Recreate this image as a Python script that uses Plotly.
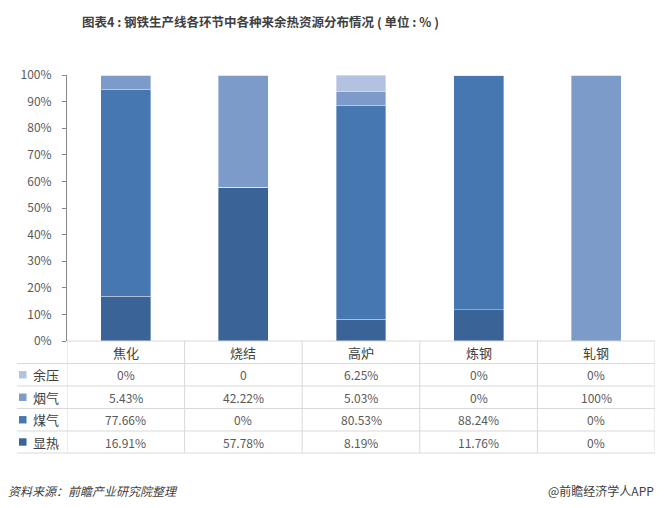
import plotly.graph_objects as go

categories = ["焦化", "烧结", "高炉", "炼钢", "轧钢"]
series_names = ["显热", "煤气", "烟气", "余压"]
xianre = [16.91, 57.78, 8.19, 11.76, 0]
meiqi = [77.66, 0, 80.53, 88.24, 0]
yanqi = [5.43, 42.22, 5.03, 0, 100]
yuya = [0, 0, 6.25, 0, 0]
# table text as printed in the source
yuya_text = ["0%", "0", "6.25%", "0%", "0%"]
yanqi_text = ["5.43%", "42.22%", "5.03%", "0%", "100%"]
meiqi_text = ["77.66%", "0%", "80.53%", "88.24%", "0%"]
xianre_text = ["16.91%", "57.78%", "8.19%", "11.76%", "0%"]
y_ticks = [0, 10, 20, 30, 40, 50, 60, 70, 80, 90, 100]

colors = {"显热": "#3A6398", "煤气": "#4777B1", "烟气": "#7D9BC9", "余压": "#B3C3DF"}

W, H = 665, 508
L, R, T, B = 67, 655, 75, 341
FONT = "Microsoft YaHei, Noto Sans CJK SC, sans-serif"


def xp(px):
    return (px - L) / (R - L)


def yp(py):
    return (B - py) / (B - T)


fig = go.Figure()
for name, vals in zip(series_names, [xianre, meiqi, yanqi, yuya]):
    fig.add_trace(go.Bar(x=list(range(len(categories))), y=vals, name=name,
                         marker=dict(color=colors[name], line=dict(color="rgba(255,255,255,0.6)", width=0.6)),
                         width=0.425, showlegend=False, hoverinfo="y+name"))

shapes = []
annotations = []
line_col = "#D9D9D9"
# table geometry (pixels)
row_lines = [341, 363.5, 386, 408.5, 431, 453]
# horizontal lines
shapes.append(dict(type="line", xref="paper", yref="paper", x0=xp(L), x1=xp(R), y0=yp(341), y1=yp(341),
                   line=dict(color=line_col, width=1)))
for py in row_lines[1:]:
    shapes.append(dict(type="line", xref="paper", yref="paper", x0=xp(17), x1=xp(R), y0=yp(py), y1=yp(py),
                       line=dict(color=line_col, width=1)))
# vertical lines
for i in range(len(categories) + 1):
    shapes.append(dict(type="line", xref="x", yref="paper", x0=i - 0.5, x1=i - 0.5, y0=yp(341), y1=yp(453),
                       line=dict(color=line_col, width=1)))

# header row
for i, c in enumerate(categories):
    annotations.append(dict(x=i, y=yp(352), xref="x", yref="paper", text=c, showarrow=False,
                            xanchor="center", yanchor="middle",
                            font=dict(size=13, color="#404040", family=FONT)))

rows = [("余压", yuya_text), ("烟气", yanqi_text), ("煤气", meiqi_text), ("显热", xianre_text)]
for r, (name, texts) in enumerate(rows):
    cy = (row_lines[r + 1] + row_lines[r + 2]) / 2
    shapes.append(dict(type="rect", xref="paper", yref="paper", x0=xp(19), x1=xp(26.5), y0=yp(cy - 3.7), y1=yp(cy + 3.7),
                       fillcolor=colors[name], line=dict(width=0)))
    annotations.append(dict(x=xp(31), y=yp(cy), xref="paper", yref="paper", text=name, showarrow=False,
                            xanchor="left", yanchor="middle", font=dict(size=13, color="#404040", family=FONT)))
    for i, t in enumerate(texts):
        annotations.append(dict(x=i, y=yp(cy), xref="x", yref="paper", text=t, showarrow=False,
                                xanchor="center", yanchor="middle",
                                font=dict(size=12, color="#595959", family=FONT)))

# title
annotations.append(dict(x=xp(260), y=yp(22), xref="paper", yref="paper", showarrow=False,
                        xanchor="center", yanchor="middle",
                        text="<b>图表4 : 钢铁生产线各环节中各种来余热资源分布情况 ( 单位 : % )</b>",
                        font=dict(size=12.5, color="#404040", family=FONT)))
# footer
annotations.append(dict(x=xp(6), y=yp(490), xref="paper", yref="paper", showarrow=False,
                        xanchor="left", yanchor="middle",
                        text="<i>资料来源：前瞻产业研究院整理</i>", font=dict(size=12, color="#404040", family=FONT)))
annotations.append(dict(x=xp(656), y=yp(490), xref="paper", yref="paper", showarrow=False,
                        xanchor="right", yanchor="middle",
                        text="@前瞻经济学人APP", font=dict(size=12, color="#404040", family=FONT)))

fig.update_layout(
    width=W, height=H, barmode="stack",
    margin=dict(l=L, r=W - R, t=T, b=H - B, pad=0),
    paper_bgcolor="white", plot_bgcolor="white",
    font=dict(family=FONT),
    xaxis=dict(range=[-0.5, len(categories) - 0.5], showticklabels=False, showgrid=False, zeroline=False,
               showline=False, fixedrange=True),
    yaxis=dict(range=[0, 100], tickvals=y_ticks, ticktext=[f"{v}%" for v in y_ticks], showgrid=False,
               zeroline=False, showline=True, linecolor="#868686", linewidth=1, ticks="outside", ticklen=4,
               tickcolor="#868686", tickfont=dict(size=12, color="#595959", family=FONT), ticklabelstandoff=8),
    shapes=shapes, annotations=annotations, showlegend=False,
)

fig.write_html("out.html")
